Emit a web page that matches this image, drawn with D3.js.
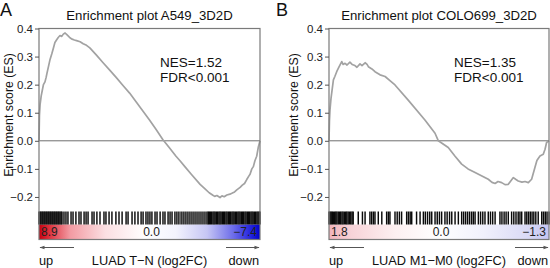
<!DOCTYPE html>
<html><head><meta charset="utf-8">
<script src="https://cdn.jsdelivr.net/npm/d3@7"></script>
<style>
html,body{margin:0;padding:0;background:#fff;}
svg{display:block;font-family:"Liberation Sans",Arial,sans-serif;}
</style></head>
<body><svg id="c" width="550" height="268"></svg>
<script>
// ---- data ----
const yTicks = [0.4, 0.3, 0.2, 0.1, 0.0, -0.1, -0.2];

const rankA = [0,0.2,0.5,1.0,1.5,2.0,2.7,3.2,3.6,4.3,5.0,5.8,6.5,7.2,8.0,8.7,9.5,10.3,11.0,11.8,12.6,13.4,14.0,15.0,16.0,17.0,18.6,20.0,21.5,23.0,26.0,29.0,32.0,35.0,38.0,41.0,44.0,47.0,50.0,53.0,56.0,59.0,62.0,63.8,66.0,69.0,72.9,75.0,77.0,78.7,79.5,80.5,81.9,82.8,83.8,85.0,86.4,87.5,88.5,89.5,91.0,92.0,93.0,94.0,95.0,95.5,96.3,97.0,97.7,98.5,99.2,100];
const esA = [0.0,0.09,0.13,0.16,0.18,0.20,0.21,0.225,0.24,0.265,0.29,0.31,0.33,0.35,0.36,0.368,0.375,0.372,0.38,0.384,0.378,0.372,0.367,0.362,0.359,0.357,0.353,0.346,0.34,0.331,0.305,0.278,0.252,0.225,0.197,0.170,0.138,0.106,0.074,0.040,0.005,-0.025,-0.055,-0.071,-0.092,-0.120,-0.155,-0.170,-0.185,-0.194,-0.198,-0.195,-0.202,-0.196,-0.199,-0.193,-0.19,-0.186,-0.182,-0.175,-0.166,-0.158,-0.152,-0.138,-0.125,-0.119,-0.100,-0.092,-0.071,-0.055,-0.024,0.0];
const hitsA = [0,0.5,0.9,1.4,1.8,2.3,2.7,3.2,3.6,4.1,4.5,5,5.4,5.9,6.3,6.8,7.2,7.7,8.1,8.6,9,9.5,10,10.4,
  11.3,12.2,13.1,14.5,15.4,16.7,18.1,19,20.4,21.3,22.2,24,24.9,26.2,27.6,29.4,30.3,31.7,33,34.8,36.2,37.6,39.4,40.3,42.1,43.4,44.8,46.2,47.1,48.4,49.3,50.2,51.1,52.5,53.4,54.8,56.1,57,58.4,59.3,60.2,61.5,62.4,63.3,64.3,65.2,66.1,67,67.9,68.8,69.7,70.6,71.5,72.4,73.3,74.2,75.1,
  76,76.6,77.1,77.6,78.1,78.7,79.2,79.7,80.3,80.8,81.4,81.9,82.4,83,83.5,84,84.6,85.1,85.7,86.2,86.7,87.3,87.8,88.3,88.9,89.4,90,90.5,91,91.6,92.1,92.6,93.2,93.7,94.3,94.8,95.3,95.9,96.4,96.9,97.5,98,98.6,99.1,99.6,100];
const scoreLabelsA = ["8.9", "0.0", "\u22127.4"];

const rankB = [0,0.2,0.45,0.9,2.0,2.7,3.5,4.5,5.8,6.4,7.3,8.2,9.5,10.5,11.8,12.7,14.1,15.0,16.4,17.3,17.9,19.5,20.9,23.2,25.5,27.7,30.0,36.0,43.6,48.2,49.7,54.2,57.3,60.3,63.2,66.4,69.5,72.4,74.1,75.5,76.8,78.5,80.0,81.5,82.7,83.8,85.0,86.0,87.7,89.1,90.6,92.1,93.6,94.5,95.9,97.4,98.2,98.9,100];
const esB = [0.0,0.07,0.11,0.15,0.217,0.23,0.246,0.262,0.282,0.272,0.276,0.27,0.28,0.272,0.268,0.262,0.274,0.268,0.278,0.272,0.264,0.256,0.246,0.235,0.229,0.214,0.199,0.145,0.074,0.027,0.0,-0.024,-0.055,-0.083,-0.100,-0.113,-0.125,-0.137,-0.148,-0.152,-0.145,-0.149,-0.156,-0.155,-0.142,-0.131,-0.138,-0.143,-0.147,-0.145,-0.149,-0.137,-0.095,-0.07,-0.054,-0.048,-0.03,-0.006,0.0];
const hitsB = [0,0.5,1,1.5,2,2.6,3.1,3.6,4.2,4.8,5.3,5.9,6.4,7,7.6,8.1,8.7,9.3,9.9,10.5,11,13.3,15.2,16.4,18.6,19.4,20.2,20.9,22.4,24,26.2,27,27.7,30,31,32,33,35.3,36.1,36.9,37.6,39.8,41.4,42.9,43.8,44.8,45.8,46.7,48.2,49.2,50.2,51.2,52.7,53.7,54.8,55.8,57.3,58.8,60.3,61.2,62.1,63,63.9,64.8,65.6,66.4,67.9,68.9,69.9,70.9,72.4,73.4,74.4,75.5,77.7,78.6,79.6,80.5,81.5,83,84,85,86,86.8,87.6,89.1,89.9,90.7,91.5,92.3,93.1,94,95.1,96.7,97.5,98.3,99.1,100];
const scoreLabelsB = ["1.8", "0.0", "\u22121.3"];

const panels = [
  {letter:"A", title:"Enrichment plot A549_3D2D", nes:"NES=1.52", fdr:"FDR<0.001",
   xlab:"LUAD T\u2212N (log2FC)", rank:rankA, es:esA, hits:hitsA, scores:scoreLabelsA},
  {letter:"B", title:"Enrichment plot COLO699_3D2D", nes:"NES=1.35", fdr:"FDR<0.001",
   xlab:"LUAD M1\u2212M0 (log2FC)", rank:rankB, es:esB, hits:hitsB, scores:scoreLabelsB}
];

// ---- layout / style ----
const layout = [
  {ox:0, left:39, right:260, nesX:160, ylabX:13,
   grad:[[0,"#c40010"],[0.04,"#dc2a36"],[0.14,"#f29aa2"],[0.3,"#fbdfe2"],[0.48,"#ffffff"],[0.62,"#f3f3fd"],[0.76,"#c6c6f4"],[0.88,"#6c6cea"],[0.96,"#2222de"],[1,"#0000cc"]]},
  {ox:276, left:329, right:549, nesX:454, ylabX:298,
   grad:[[0,"#f1b3bb"],[0.1,"#f7d3d8"],[0.3,"#fdf0f1"],[0.5,"#ffffff"],[0.7,"#f1f1fc"],[0.9,"#dadaf6"],[1,"#c4c4f2"]]}
];
const plotTop = 28.5, esBottom = 211, barBottom = 224.5, cbBottom = 239.5;

const svg = d3.select("#c");
const defs = svg.append("defs");
defs.append("marker").attr("id","ah").attr("viewBox","0 0 10 10").attr("refX",9).attr("refY",5)
  .attr("markerWidth",6).attr("markerHeight",5).attr("orient","auto-start-reverse")
  .append("path").attr("d","M0,1.5 L10,5 L0,8.5 Z").attr("fill","#555");

panels.forEach((p, i) => {
  const L = layout[i];
  const g = svg.append("g");
  const x = d3.scaleLinear().domain([0,100]).range([L.left, L.right]);
  const y = d3.scaleLinear().domain([-0.25, 0.4]).range([esBottom, plotTop]);
  const mid = (L.left + L.right) / 2;

  // gradient
  const gid = "grad" + i;
  const lg = defs.append("linearGradient").attr("id", gid).attr("x1","0%").attr("x2","100%");
  L.grad.forEach(s => lg.append("stop").attr("offset", s[0]).attr("stop-color", s[1]));
  g.append("rect").attr("x", L.left).attr("y", barBottom).attr("width", L.right - L.left)
    .attr("height", cbBottom - barBottom).attr("fill", `url(#${gid})`);

  // barcode
  g.selectAll(".hit").data(p.hits).join("line")
    .attr("x1", d => x(d)).attr("x2", d => x(d)).attr("y1", esBottom + 0.5).attr("y2", barBottom)
    .attr("stroke", "#0a0a0a").attr("stroke-width", 1.45);

  // zero line
  g.append("line").attr("x1", L.left).attr("x2", L.right).attr("y1", y(0)).attr("y2", y(0))
    .attr("stroke", "#6e6e6e").attr("stroke-width", 1);

  // curve
  const pts = p.rank.map((r, k) => [r, p.es[k]]);
  g.append("path").datum(pts).attr("fill","none").attr("stroke","#a2a2a2").attr("stroke-width",1.7)
    .attr("stroke-linejoin","round")
    .attr("d", d3.line().x(d => x(d[0])).y(d => y(d[1])));

  // box
  g.append("rect").attr("x", L.left).attr("y", plotTop).attr("width", L.right - L.left)
    .attr("height", cbBottom - plotTop).attr("fill","none").attr("stroke","#7a7a7a").attr("stroke-width",1.2);

  // y axis
  const ax = g.append("g").attr("transform", `translate(${L.left},0)`)
    .call(d3.axisLeft(y).tickValues(yTicks).tickSize(4).tickPadding(2)
      .tickFormat(d => d3.format(".1f")(d).replace("-", "\u2212")));
  ax.select(".domain").remove();
  ax.selectAll(".tick line").attr("stroke","#555");
  ax.selectAll("text").attr("font-size", 11.5).attr("fill","#222")
    .attr("font-family", '"Liberation Sans", Arial, sans-serif');

  // score labels
  const sy = 235.5;
  g.append("text").attr("x", L.left + 2).attr("y", sy).attr("font-size", 12).attr("fill","#222").text(p.scores[0]);
  g.append("text").attr("x", mid + 2).attr("y", sy).attr("text-anchor","middle").attr("font-size", 12).attr("fill","#222").text(p.scores[1]);
  g.append("text").attr("x", L.right - 3).attr("y", sy).attr("text-anchor","end").attr("font-size", 12).attr("fill","#222").text(p.scores[2]);

  // arrows
  const ay = 247.5;
  g.append("line").attr("x1", L.left + 35).attr("x2", L.left + 1).attr("y1", ay).attr("y2", ay)
    .attr("stroke","#555").attr("stroke-width",1).attr("marker-end","url(#ah)");
  g.append("line").attr("x1", L.right - 34).attr("x2", L.right - 1).attr("y1", ay).attr("y2", ay)
    .attr("stroke","#555").attr("stroke-width",1).attr("marker-end","url(#ah)");

  // bottom labels
  const by = 265;
  g.append("text").attr("x", L.left).attr("y", by).attr("font-size", 12.8).attr("fill","#111").text("up");
  g.append("text").attr("x", mid).attr("y", by).attr("text-anchor","middle").attr("font-size", 12.8).attr("fill","#111").text(p.xlab);
  g.append("text").attr("x", L.right - 1).attr("y", by).attr("text-anchor","end").attr("font-size", 12.8).attr("fill","#111").text("down");

  // title
  g.append("text").attr("x", mid).attr("y", 20).attr("text-anchor","middle").attr("font-size", 13.2).attr("fill","#111").text(p.title);
  // letter
  g.append("text").attr("x", L.ox).attr("y", 16.3).attr("font-size", 18).attr("fill","#111").text(p.letter);
  // NES/FDR
  g.append("text").attr("x", L.nesX).attr("y", 66.5).attr("font-size", 13.5).attr("fill","#111").text(p.nes);
  g.append("text").attr("x", L.nesX).attr("y", 82).attr("font-size", 13.5).attr("fill","#111").text(p.fdr);
  // y label
  g.append("text").attr("transform", `translate(${L.ylabX},115) rotate(-90)`).attr("text-anchor","middle")
    .attr("font-size", 12.3).attr("fill","#111").text("Enrichment score (ES)");
});
</script></body></html>
